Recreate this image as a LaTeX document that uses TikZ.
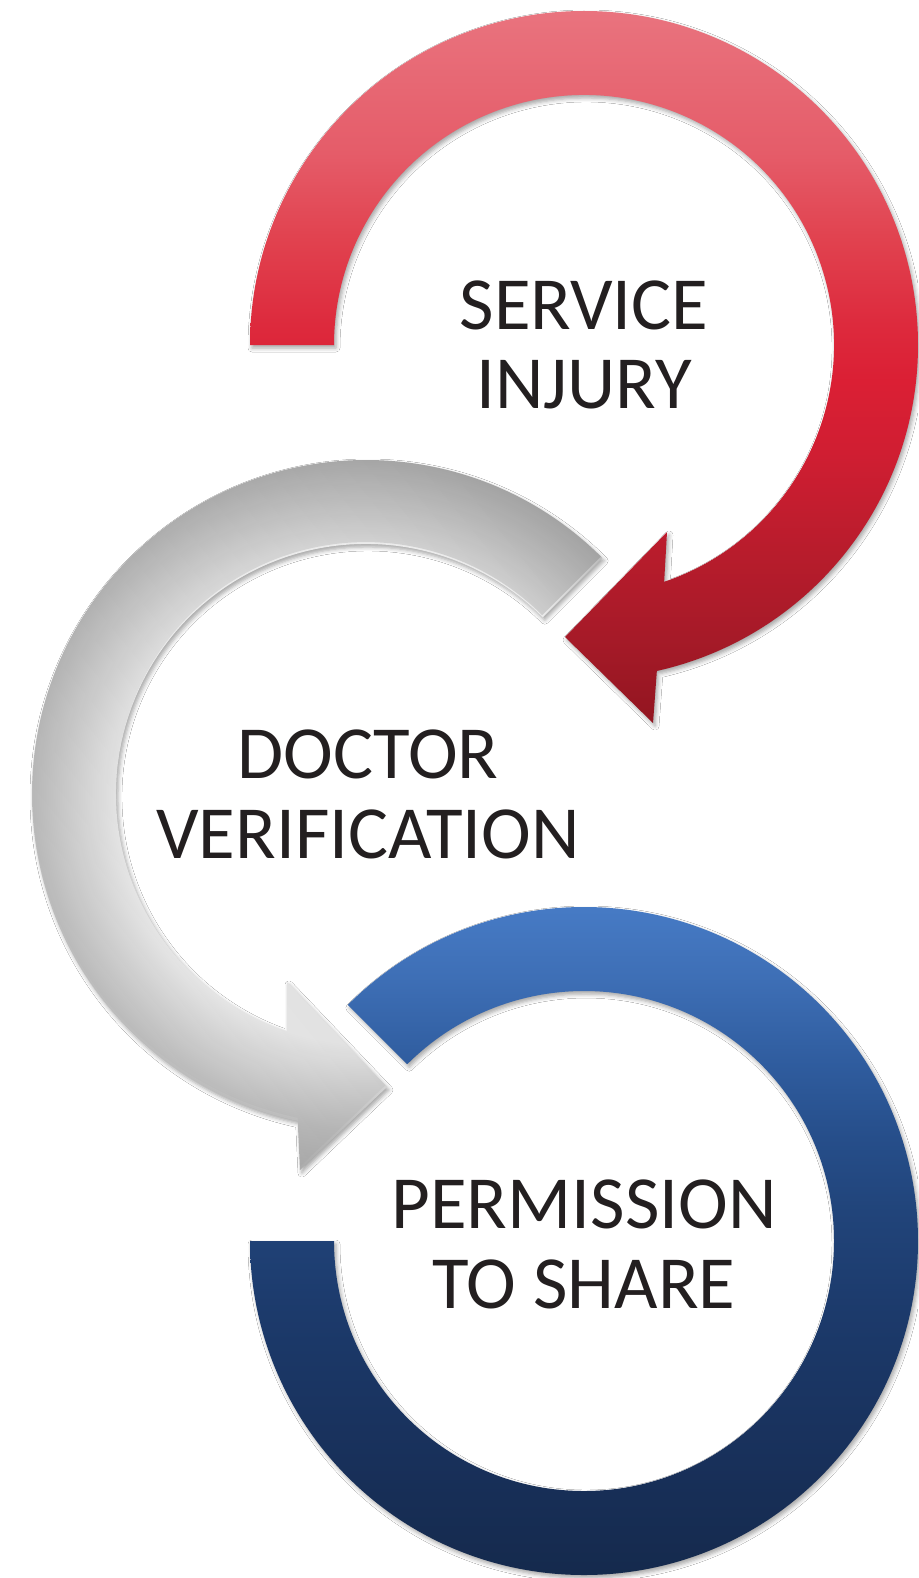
\documentclass[tikz,border=0pt]{standalone}
\usepackage{fontspec}
\setmainfont{Carlito}
\usetikzlibrary{calc,shadows.blur,fadings}
\definecolor{grayL}{HTML}{ECECEC}
\definecolor{grayM}{HTML}{D6D6D6}
\definecolor{grayD}{HTML}{BBBBBB}
\definecolor{grayX}{HTML}{AAAAAA}
\definecolor{txt}{HTML}{231F20}
\pgfdeclareverticalshading{redsh}{100bp}{
  color(0bp)=(rgb,255:red,146;green,21;blue,32);
  color(25bp)=(rgb,255:red,146;green,21;blue,32);
  color(31bp)=(rgb,255:red,166;green,26;blue,40);
  color(37bp)=(rgb,255:red,184;green,28;blue,44);
  color(44bp)=(rgb,255:red,208;green,30;blue,50);
  color(49bp)=(rgb,255:red,219;green,31;blue,52);
  color(53bp)=(rgb,255:red,221;green,42;blue,61);
  color(59bp)=(rgb,255:red,225;green,66;blue,79);
  color(65bp)=(rgb,255:red,229;green,92;blue,105);
  color(75bp)=(rgb,255:red,233;green,115;blue,126);
  color(100bp)=(rgb,255:red,233;green,115;blue,126)}
\pgfdeclareverticalshading{bluesh}{100bp}{
  color(0bp)=(rgb,255:red,20;green,40;blue,73);
  color(25bp)=(rgb,255:red,20;green,40;blue,73);
  color(35bp)=(rgb,255:red,24;green,48;blue,90);
  color(45bp)=(rgb,255:red,28;green,58;blue,107);
  color(52bp)=(rgb,255:red,33;green,68;blue,122);
  color(57bp)=(rgb,255:red,38;green,78;blue,138);
  color(62bp)=(rgb,255:red,47;green,92;blue,158);
  color(68bp)=(rgb,255:red,62;green,111;blue,182);
  color(75bp)=(rgb,255:red,74;green,128;blue,204);
  color(100bp)=(rgb,255:red,74;green,128;blue,204)}
\pgfdeclareradialshading{ringsh}{\pgfpoint{0bp}{0bp}}{
  color(0bp)=(grayL);
  color(15.6bp)=(grayL);
  color(18bp)=(grayM);
  color(21bp)=(grayD);
  color(24bp)=(grayX);
  color(50bp)=(grayX)}
\tikzset{
  soft/.style={blur shadow={shadow xshift=2pt, shadow yshift=-3pt, shadow blur radius=4pt, shadow opacity=35}},
  redshade/.style={soft, shading=redsh},
  blueshade/.style={soft, shading=bluesh},
  lbl/.style={anchor=base, inner sep=0pt, text=txt, font=\fontsize{75}{79}\selectfont}
}
\begin{document}
\begin{tikzpicture}[x=1pt,y=-1pt]
\useasboundingbox (0,0) rectangle (918,1578);
\fill[white] (0,0) rectangle (918,1578);
\coordinate (c1) at (584,345);
\coordinate (c2) at (366,794);
\coordinate (c3) at (584,1241);
\coordinate (rb1) at (653,723);
\coordinate (rt) at (565,637);
\coordinate (rb2) at (667,532);
\coordinate (gb1) at (300,1170);
\coordinate (gt) at (387,1087);
\coordinate (gb2) at (287,982);
% red arrow
\shade[redshade] ($(c1)+(180:334)$) arc[start angle=180, end angle=437.4, radius=334]
  -- (rb1) -- (rt) -- (rb2)
  -- ($(c1)+(431.3:250)$) arc[start angle=431.3, end angle=180, radius=250] -- cycle;
% gray arrow
\newcommand\grayoutline{($(c2)+(-45:334)$) arc[start angle=-45, end angle=-258.2, radius=334]
  -- (gb1) -- (gt) -- (gb2)
  -- ($(c2)+(-251.6:250)$) arc[start angle=-251.6, end angle=-45, radius=250] -- cycle}
\path[soft] \grayoutline;
\begin{scope}
  \clip \grayoutline;
  \shade[shading=ringsh] (c2) circle[radius=400];
  \fill[black, opacity=0.13, path fading=east, fading angle=225] \grayoutline;
\end{scope}
% blue arc
\shade[blueshade] ($(c3)+(225:334)$) arc[start angle=225, end angle=540, radius=334]
  -- ($(c3)+(540:250)$) arc[start angle=540, end angle=225, radius=250] -- cycle;
% labels
\node[lbl] (s1) at (584,329) {SERVICE};
\node[lbl] (s2) at (584,408) {INJURY};
\node[lbl] (d1) at (368,778) {DOCTOR};
\node[lbl] (d2) at (368,858) {VERIFICATION};
\node[lbl] (p1) at (584,1228) {PERMISSION};
\node[lbl] (p2) at (584,1308) {TO SHARE};
\end{tikzpicture}
\end{document}
